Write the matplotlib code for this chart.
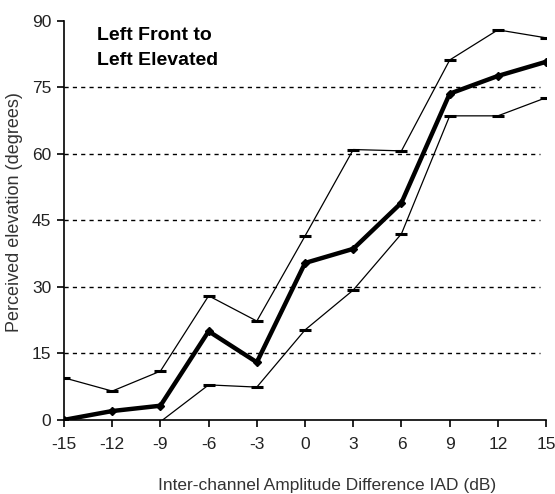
import matplotlib
matplotlib.use("Agg")
import matplotlib.pyplot as plt

iad = [-15, -12, -9, -6, -3, 0, 3, 6, 9, 12, 15]
mean_elev = [0, 2, 3.2, 20, 13, 35.4, 38.6, 49, 73.6, 77.6, 80.8]
upper_elev = [9.5, 6.5, 11, 28, 22.3, 41.5, 61, 60.7, 81.2, 88, 86.2]
iad_low = [-12, -9, -6, -3, 0, 3, 6, 9, 12, 15]
lower_elev = [-0.4, -0.4, 7.9, 7.4, 20.3, 29.3, 42, 68.6, 68.6, 72.7]

plt.rcParams['font.family'] = ['Liberation Sans', 'DejaVu Sans']
plt.rcParams['axes.unicode_minus'] = False

fig = plt.figure(figsize=(5.55, 4.94), dpi=100)
ax = fig.add_axes([0.1153, 0.150, 0.8687, 0.8075])

# dashed grid lines
for y in [15, 30, 45, 60, 75]:
    ax.plot([-15, 14.6], [y, y], color='black', lw=1.0, ls=(0, (3, 3)), zorder=1)

ax.plot(iad, upper_elev, color='black', lw=0.9, marker='_', ms=8, mew=2.2, zorder=2)
ax.plot(iad_low, lower_elev, color='black', lw=0.9, marker='_', ms=8, mew=2.2, zorder=2)
ax.plot(iad, mean_elev, color='black', lw=3.2, marker='D', ms=4.5, zorder=3)

ax.set_xlim(-15, 15)
ax.set_ylim(0, 90)
ax.set_xticks(iad)
ax.set_yticks([0, 15, 30, 45, 60, 75, 90])
for s in ['top', 'right']:
    ax.spines[s].set_visible(False)
ax.spines['left'].set_linewidth(1.2)
ax.spines['bottom'].set_linewidth(1.2)
ax.tick_params(axis='both', labelsize=12.5, length=5, width=1.2, direction='out',
               labelcolor='#222222')
ax.tick_params(axis='x', pad=7)
ax.tick_params(axis='y', pad=4)
ax.set_xlabel('Inter-channel Amplitude Difference IAD (dB)', fontsize=12.5,
              color='#333333')
ax.xaxis.set_label_coords(0.545, -0.145)
ax.set_ylabel('Perceived elevation (degrees)', fontsize=13, color='#333333')
ax.yaxis.set_label_coords(-0.085, 0.52)
for sp in ax.spines.values():
    sp.set_clip_on(False)

ax.text(0.068, 0.985, 'Left Front to\nLeft Elevated', transform=ax.transAxes, va='top',
        ha='left', fontsize=14, fontweight='bold', linespacing=1.6)

fig.savefig('out.png', dpi=100)
